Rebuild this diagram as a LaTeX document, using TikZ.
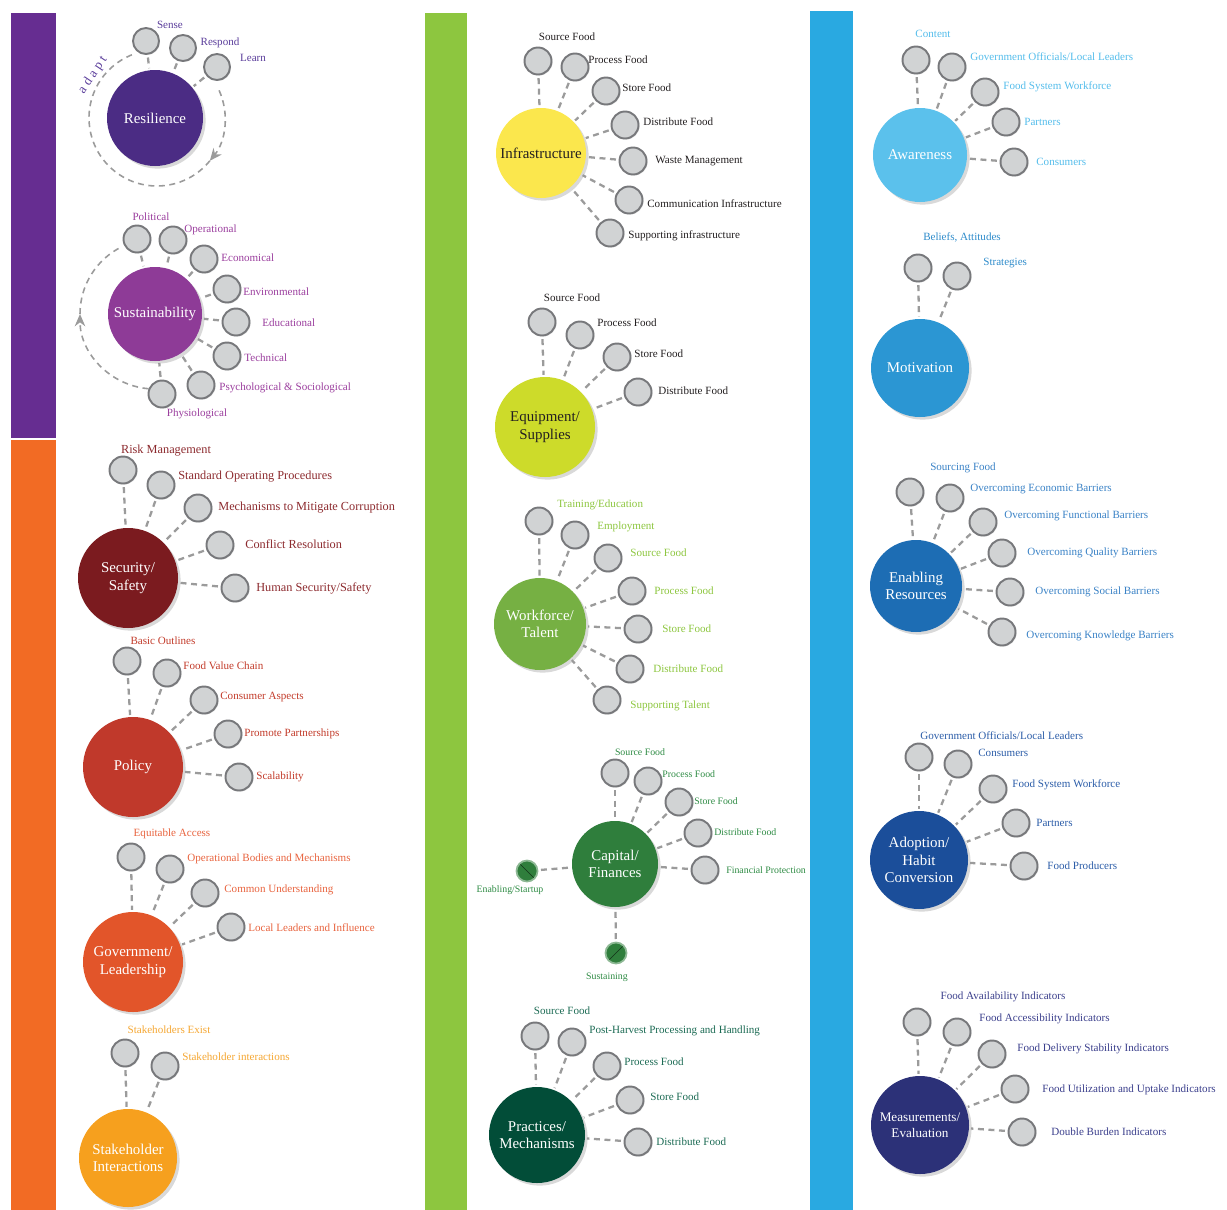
\documentclass[tikz,border=0pt]{standalone}
\usepackage{fontspec}
\setmainfont{Liberation Serif}
\usetikzlibrary{shadows, arrows.meta, calc, positioning}

\definecolor{barpurple}{HTML}{662D91}
\definecolor{barorange}{HTML}{F26B24}
\definecolor{bargreen}{HTML}{8DC63F}
\definecolor{barblue}{HTML}{29A9E1}
\definecolor{leafgray}{HTML}{D1D3D4}
\definecolor{leafedge}{HTML}{77787B}
\definecolor{linkgray}{HTML}{9B9B9B}
\definecolor{darktext}{HTML}{231F20}
\definecolor{resil}{HTML}{4B2C84}
\definecolor{resiltxt}{HTML}{5B3E9B}
\definecolor{sustain}{HTML}{8E3B97}
\definecolor{sustxt}{HTML}{9B3F9E}
\definecolor{secur}{HTML}{7B1B1F}
\definecolor{sectxt}{HTML}{8C2A2E}
\definecolor{policy}{HTML}{C0392B}
\definecolor{poltxt}{HTML}{C23B2A}
\definecolor{govern}{HTML}{E2552A}
\definecolor{govtxt}{HTML}{E8643F}
\definecolor{stake}{HTML}{F6A01E}
\definecolor{stktxt}{HTML}{F5A733}
\definecolor{infra}{HTML}{FBE74D}
\definecolor{equip}{HTML}{CDDB2A}
\definecolor{work}{HTML}{76B043}
\definecolor{wrktxt}{HTML}{8DC63F}
\definecolor{capital}{HTML}{2F7E3C}
\definecolor{captxt}{HTML}{2E8B44}
\definecolor{practice}{HTML}{024D38}
\definecolor{prctxt}{HTML}{1C6B54}
\definecolor{aware}{HTML}{5BC1EC}
\definecolor{awatxt}{HTML}{55BDEB}
\definecolor{motiv}{HTML}{2B96D3}
\definecolor{mottxt}{HTML}{2F8CCB}
\definecolor{enable}{HTML}{1D6DB4}
\definecolor{enatxt}{HTML}{3A82C6}
\definecolor{adopt}{HTML}{1B4E9A}
\definecolor{adotxt}{HTML}{2C5DA8}
\definecolor{measure}{HTML}{2C3178}
\definecolor{meatxt}{HTML}{3B3F8C}

\tikzset{
  hub/.style={circle, fill=#1, text=white, align=center, inner sep=0pt,
    minimum size=96*0.02cm, font=\fontsize{8.5}{10}\selectfont,
    drop shadow={shadow xshift=1.5pt, shadow yshift=-1.5pt, opacity=0.3}},
  leaf/.style={circle, fill=leafgray, draw=leafedge, line width=1.1pt, inner sep=0pt,
    minimum size=27*0.02cm,
    drop shadow={shadow xshift=0.6pt, shadow yshift=-0.6pt, opacity=0.25}},
  phase/.style={circle, fill=capital, draw=capital!55, line width=1pt, inner sep=0pt,
    minimum size=21*0.02cm},
  phasedown/.style={phase, path picture={\draw[capital!40!black, line width=0.3pt]
    (path picture bounding box.north west) -- (path picture bounding box.south east);}},
  phaseup/.style={phase, path picture={\draw[capital!40!black, line width=0.3pt]
    (path picture bounding box.south west) -- (path picture bounding box.north east);}},
  link/.style={draw=linkgray, line width=1.3pt, dash pattern=on 3.4pt off 2.6pt,
    shorten <=1.5pt, shorten >=1pt},
  loop/.style={draw=linkgray, line width=0.9pt, dash pattern=on 3.4pt off 2.6pt},
  tag/.style={text=#1, inner sep=0pt, font=\fontsize{6.3}{7.5}\selectfont},
  bigtag/.style={tag=#1, font=\fontsize{7}{8}\selectfont},
  smalltag/.style={tag=#1, font=\fontsize{5.6}{6.5}\selectfont},
}

\begin{document}
\begin{tikzpicture}[x=0.02cm, y=-0.02cm]
\useasboundingbox (0,0) rectangle (1227,1210);

% colour bars
\fill[barpurple] (11,13) rectangle (56,438);
\fill[barorange] (11,440) rectangle (56,1210);
\fill[bargreen] (425,13) rectangle (467,1210);
\fill[barblue] (810,11) rectangle (853,1210);

% ---------- first column ----------
% resilience
\coordinate (rescen) at (157,118);
\draw[loop, -{Stealth[length=7pt, width=6pt, fill=linkgray]}] ($(rescen)+(-24:68)$) arc[start angle=-24, end angle=39, radius=68];
\draw[loop] ($(rescen)+(39:68)$) arc[start angle=39, end angle=251, radius=68];
\node[hub=resil] (res) at (155,118) {Resilience};
\node[leaf, minimum size=26*0.02cm] (res1) at (146,41) {};
\node[leaf, minimum size=26*0.02cm] (res2) at (183,48) {};
\node[leaf, minimum size=26*0.02cm] (res3) at (217,67) {};
\node[tag=resiltxt] (res1t) at (170,25) {Sense};
\node[tag=resiltxt] (res2t) at (220,43) {Respond};
\node[tag=resiltxt] (res3t) at (253,58) {Learn};
\node[text=resiltxt, rotate=56, font=\fontsize{7.5}{8}\selectfont\addfontfeature{LetterSpace=25}, inner sep=0pt] (adapt) at (93,75) {adapt};

% sustainability
\coordinate (suscen) at (155,314);
\draw[loop, -{Stealth[length=7pt, width=6pt, fill=linkgray]}] ($(suscen)+(95:75)$) arc[start angle=95, end angle=180, radius=75];
\draw[loop] ($(suscen)+(180:75)$) arc[start angle=180, end angle=244, radius=75];
\node[hub=sustain, minimum size=94*0.02cm] (sus) at (155,314) {Sustainability};
\node[leaf] (sus1) at (137,239) {};
\node[leaf] (sus2) at (173,240) {};
\node[leaf] (sus3) at (204,259) {};
\node[leaf] (sus4) at (227,289) {};
\node[leaf] (sus5) at (236,322) {};
\node[leaf] (sus6) at (227,356) {};
\node[leaf] (sus7) at (201,385) {};
\node[leaf] (sus8) at (162,394) {};
\node[tag=sustxt] (sus1t) at (151,217) {Political};
\node[tag=sustxt, anchor=west] (sus2t) at (184,230) {Operational};
\node[tag=sustxt, anchor=west] (sus3t) at (221,258) {Economical};
\node[tag=sustxt, anchor=west] (sus4t) at (243,292) {Environmental};
\node[tag=sustxt, anchor=west] (sus5t) at (262,323) {Educational};
\node[tag=sustxt, anchor=west] (sus6t) at (244,358) {Technical};
\node[tag=sustxt, anchor=west] (sus7t) at (219,388) {Psychological \& Sociological};
\node[tag=sustxt] (sus8t) at (197,414) {Physiological};

% security
\node[hub=secur, minimum size=100*0.02cm] (sec) at (128,578) {Security/\\Safety};
\node[leaf] (sec1) at (123,470) {};
\node[leaf] (sec2) at (161,485) {};
\node[leaf] (sec3) at (198,508) {};
\node[leaf] (sec4) at (220,545) {};
\node[leaf] (sec5) at (235,588) {};
\node[bigtag=sectxt] (sec1t) at (166,451) {Risk Management};
\node[bigtag=sectxt, anchor=west] (sec2t) at (178,477) {Standard Operating Procedures};
\node[bigtag=sectxt, anchor=west] (sec3t) at (218,508) {Mechanisms to Mitigate Corruption};
\node[bigtag=sectxt, anchor=west] (sec4t) at (245,544) {Conflict Resolution};
\node[bigtag=sectxt, anchor=west] (sec5t) at (256,588) {Human Security/Safety};

% policy
\node[hub=policy, minimum size=100*0.02cm] (pol) at (133,767) {Policy};
\node[leaf] (pol1) at (127,661) {};
\node[leaf] (pol2) at (167,673) {};
\node[leaf] (pol3) at (204,700) {};
\node[leaf] (pol4) at (228,734) {};
\node[leaf] (pol5) at (239,777) {};
\node[tag=poltxt] (pol1t) at (163,641) {Basic Outlines};
\node[tag=poltxt, anchor=west] (pol2t) at (183,666) {Food Value Chain};
\node[tag=poltxt, anchor=west] (pol3t) at (220,697) {Consumer Aspects};
\node[tag=poltxt, anchor=west] (pol4t) at (244,734) {Promote Partnerships};
\node[tag=poltxt, anchor=west] (pol5t) at (256,777) {Scalability};

% government
\node[hub=govern, minimum size=100*0.02cm] (gov) at (133,962) {Government/\\Leadership};
\node[leaf] (gov1) at (131,857) {};
\node[leaf] (gov2) at (170,869) {};
\node[leaf] (gov3) at (205,893) {};
\node[leaf] (gov4) at (231,927) {};
\node[tag=govtxt] (gov1t) at (172,834) {Equitable Access};
\node[tag=govtxt, anchor=west] (gov2t) at (187,859) {Operational Bodies and Mechanisms};
\node[tag=govtxt, anchor=west] (gov3t) at (224,890) {Common Understanding};
\node[tag=govtxt, anchor=west] (gov4t) at (248,928) {Local Leaders and Influence};

% stakeholders
\node[hub=stake, minimum size=98*0.02cm] (stk) at (128,1158) {Stakeholder\\Interactions};
\node[leaf] (stk1) at (125,1053) {};
\node[leaf] (stk2) at (165,1066) {};
\node[tag=stktxt] (stk1t) at (169,1030) {Stakeholders Exist};
\node[tag=stktxt, anchor=west] (stk2t) at (182,1057) {Stakeholder interactions};

% ---------- second column ----------
% infrastructure
\node[hub=infra, text=darktext, minimum size=90*0.02cm] (inf) at (541,153) {Infrastructure};
\node[leaf] (inf1) at (538,61) {};
\node[leaf] (inf2) at (575,67) {};
\node[leaf] (inf3) at (606,91) {};
\node[leaf] (inf4) at (625,125) {};
\node[leaf] (inf5) at (633,161) {};
\node[leaf] (inf6) at (629,200) {};
\node[leaf] (inf7) at (610,233) {};
\node[tag=darktext] (inf1t) at (567,37) {Source Food};
\node[tag=darktext, anchor=west] (inf2t) at (588,60) {Process Food};
\node[tag=darktext, anchor=west] (inf3t) at (622,88) {Store Food};
\node[tag=darktext, anchor=west] (inf4t) at (643,122) {Distribute Food};
\node[tag=darktext, anchor=west] (inf5t) at (655,161) {Waste Management};
\node[tag=darktext, anchor=west] (inf6t) at (647,204) {Communication Infrastructure};
\node[tag=darktext, anchor=west] (inf7t) at (628,236) {Supporting infrastructure};

% equipment
\node[hub=equip, text=darktext, minimum size=100*0.02cm] (equ) at (545,427) {Equipment/\\Supplies};
\node[leaf] (equ1) at (542,322) {};
\node[leaf] (equ2) at (580,335) {};
\node[leaf] (equ3) at (617,357) {};
\node[leaf] (equ4) at (638,392) {};
\node[tag=darktext] (equ1t) at (572,298) {Source Food};
\node[tag=darktext, anchor=west] (equ2t) at (597,323) {Process Food};
\node[tag=darktext, anchor=west] (equ3t) at (634,354) {Store Food};
\node[tag=darktext, anchor=west] (equ4t) at (658,391) {Distribute Food};

% workforce
\node[hub=work, minimum size=92*0.02cm] (wrk) at (540,624) {Workforce/\\Talent};
\node[leaf] (wrk1) at (539,521) {};
\node[leaf] (wrk2) at (575,535) {};
\node[leaf] (wrk3) at (608,558) {};
\node[leaf] (wrk4) at (632,591) {};
\node[leaf] (wrk5) at (638,629) {};
\node[leaf] (wrk6) at (630,669) {};
\node[leaf] (wrk7) at (607,700) {};
\node[tag=wrktxt, anchor=west] (wrk1t) at (557,505) {Training/Education};
\node[tag=wrktxt, anchor=west] (wrk2t) at (597,527) {Employment};
\node[tag=wrktxt, anchor=west] (wrk3t) at (630,553) {Source Food};
\node[tag=wrktxt, anchor=west] (wrk4t) at (654,591) {Process Food};
\node[tag=wrktxt, anchor=west] (wrk5t) at (662,629) {Store Food};
\node[tag=wrktxt, anchor=west] (wrk6t) at (653,669) {Distribute Food};
\node[tag=wrktxt, anchor=west] (wrk7t) at (630,706) {Supporting Talent};

% capital
\node[hub=capital, minimum size=86*0.02cm] (cap) at (615,864) {Capital/\\Finances};
\node[leaf] (cap1) at (615,773) {};
\node[leaf] (cap2) at (648,781) {};
\node[leaf] (cap3) at (679,802) {};
\node[leaf] (cap4) at (698,833) {};
\node[leaf] (cap5) at (705,870) {};
\node[phasedown] (capS) at (527,871) {};
\node[phaseup] (capE) at (616,953) {};
\node[smalltag=captxt] (cap1t) at (640,752) {Source Food};
\node[smalltag=captxt, anchor=west] (cap2t) at (662,774) {Process Food};
\node[smalltag=captxt, anchor=west] (cap3t) at (694,801) {Store Food};
\node[smalltag=captxt, anchor=west] (cap4t) at (714,832) {Distribute Food};
\node[smalltag=captxt, anchor=west] (cap5t) at (726,870) {Financial Protection};
\node[smalltag=captxt] (capSt) at (510,890) {Enabling/Startup};
\node[smalltag=captxt] (capEt) at (607,977) {Sustaining};

% practices
\node[hub=practice, minimum size=96*0.02cm] (prc) at (537,1135) {Practices/\\Mechanisms};
\node[leaf] (prc1) at (535,1036) {};
\node[leaf] (prc2) at (572,1042) {};
\node[leaf] (prc3) at (607,1066) {};
\node[leaf] (prc4) at (630,1100) {};
\node[leaf] (prc5) at (638,1142) {};
\node[tag=prctxt] (prc1t) at (562,1011) {Source Food};
\node[tag=prctxt, anchor=west] (prc2t) at (589,1031) {Post-Harvest Processing and Handling};
\node[tag=prctxt, anchor=west] (prc3t) at (624,1062) {Process Food};
\node[tag=prctxt, anchor=west] (prc4t) at (650,1097) {Store Food};
\node[tag=prctxt, anchor=west] (prc5t) at (656,1142) {Distribute Food};

% ---------- third column ----------
% awareness
\node[hub=aware, minimum size=94*0.02cm] (awa) at (920,155) {Awareness};
\node[leaf] (awa1) at (916,60) {};
\node[leaf] (awa2) at (952,67) {};
\node[leaf] (awa3) at (985,92) {};
\node[leaf] (awa4) at (1006,122) {};
\node[leaf] (awa5) at (1014,162) {};
\node[tag=awatxt] (awa1t) at (933,34) {Content};
\node[tag=awatxt, anchor=west] (awa2t) at (970,57) {Government Officials/Local Leaders};
\node[tag=awatxt, anchor=west] (awa3t) at (1003,87) {Food System Workforce};
\node[tag=awatxt, anchor=west] (awa4t) at (1024,122) {Partners};
\node[tag=awatxt, anchor=west] (awa5t) at (1036,162) {Consumers};

% motivation
\node[hub=motiv, minimum size=98*0.02cm] (mot) at (920,368) {Motivation};
\node[leaf] (mot1) at (918,268) {};
\node[leaf] (mot2) at (957,276) {};
\node[tag=mottxt] (mot1t) at (962,237) {Beliefs, Attitudes};
\node[tag=mottxt, anchor=west] (mot2t) at (983,263) {Strategies};

% enabling resources
\node[hub=enable, minimum size=92*0.02cm] (ena) at (916,586) {Enabling\\Resources};
\node[leaf] (ena1) at (910,492) {};
\node[leaf] (ena2) at (950,498) {};
\node[leaf] (ena3) at (983,522) {};
\node[leaf] (ena4) at (1002,553) {};
\node[leaf] (ena5) at (1010,592) {};
\node[leaf] (ena6) at (1002,632) {};
\node[tag=enatxt] (ena1t) at (963,468) {Sourcing Food};
\node[tag=enatxt, anchor=west] (ena2t) at (970,489) {Overcoming Economic Barriers};
\node[tag=enatxt, anchor=west] (ena3t) at (1004,516) {Overcoming Functional Barriers};
\node[tag=enatxt, anchor=west] (ena4t) at (1027,553) {Overcoming Quality Barriers};
\node[tag=enatxt, anchor=west] (ena5t) at (1035,592) {Overcoming Social Barriers};
\node[tag=enatxt, anchor=west] (ena6t) at (1026,636) {Overcoming Knowledge Barriers};

% adoption
\node[hub=adopt, minimum size=98*0.02cm] (ado) at (919,860) {Adoption/\\Habit\\Conversion};
\node[leaf] (ado1) at (919,757) {};
\node[leaf] (ado2) at (958,764) {};
\node[leaf] (ado3) at (993,789) {};
\node[leaf] (ado4) at (1016,823) {};
\node[leaf] (ado5) at (1024,866) {};
\node[tag=adotxt, anchor=west] (ado1t) at (920,736) {Government Officials/Local Leaders};
\node[tag=adotxt, anchor=west] (ado2t) at (978,753) {Consumers};
\node[tag=adotxt, anchor=west] (ado3t) at (1012,785) {Food System Workforce};
\node[tag=adotxt, anchor=west] (ado4t) at (1036,823) {Partners};
\node[tag=adotxt, anchor=west] (ado5t) at (1047,866) {Food Producers};

% measurements
\node[hub=measure, minimum size=98*0.02cm, font=\fontsize{7.5}{9}\selectfont] (mea) at (920,1125) {Measurements/\\Evaluation};
\node[leaf] (mea1) at (917,1022) {};
\node[leaf] (mea2) at (957,1032) {};
\node[leaf] (mea3) at (992,1054) {};
\node[leaf] (mea4) at (1015,1089) {};
\node[leaf] (mea5) at (1022,1132) {};
\node[tag=meatxt] (mea1t) at (1003,997) {Food Availability Indicators};
\node[tag=meatxt, anchor=west] (mea2t) at (979,1019) {Food Accessibility Indicators};
\node[tag=meatxt, anchor=west] (mea3t) at (1017,1049) {Food Delivery Stability Indicators};
\node[tag=meatxt, anchor=west] (mea4t) at (1042,1090) {Food Utilization and Uptake Indicators};
\node[tag=meatxt, anchor=west] (mea5t) at (1051,1132) {Double Burden Indicators};

%connections
\draw[link] (res1) -- (res);
\draw[link] (res2) -- (res);
\draw[link] (res3) -- (res);
\draw[link] (sus1) -- (sus);
\draw[link] (sus2) -- (sus);
\draw[link] (sus3) -- (sus);
\draw[link] (sus4) -- (sus);
\draw[link] (sus5) -- (sus);
\draw[link] (sus6) -- (sus);
\draw[link] (sus7) -- (sus);
\draw[link] (sus8) -- (sus);
\draw[link] (sec1) -- (sec);
\draw[link] (sec2) -- (sec);
\draw[link] (sec3) -- (sec);
\draw[link] (sec4) -- (sec);
\draw[link] (sec5) -- (sec);
\draw[link] (pol1) -- (pol);
\draw[link] (pol2) -- (pol);
\draw[link] (pol3) -- (pol);
\draw[link] (pol4) -- (pol);
\draw[link] (pol5) -- (pol);
\draw[link] (gov1) -- (gov);
\draw[link] (gov2) -- (gov);
\draw[link] (gov3) -- (gov);
\draw[link] (gov4) -- (gov);
\draw[link] (stk1) -- (stk);
\draw[link] (stk2) -- (stk);
\draw[link] (inf1) -- (inf);
\draw[link] (inf2) -- (inf);
\draw[link] (inf3) -- (inf);
\draw[link] (inf4) -- (inf);
\draw[link] (inf5) -- (inf);
\draw[link] (inf6) -- (inf);
\draw[link] (inf7) -- (inf);
\draw[link] (equ1) -- (equ);
\draw[link] (equ2) -- (equ);
\draw[link] (equ3) -- (equ);
\draw[link] (equ4) -- (equ);
\draw[link] (wrk1) -- (wrk);
\draw[link] (wrk2) -- (wrk);
\draw[link] (wrk3) -- (wrk);
\draw[link] (wrk4) -- (wrk);
\draw[link] (wrk5) -- (wrk);
\draw[link] (wrk6) -- (wrk);
\draw[link] (wrk7) -- (wrk);
\draw[link] (cap1) -- (cap);
\draw[link] (cap2) -- (cap);
\draw[link] (cap3) -- (cap);
\draw[link] (cap4) -- (cap);
\draw[link] (cap5) -- (cap);
\draw[link] (capS) -- (cap);
\draw[link] (capE) -- (cap);
\draw[link] (prc1) -- (prc);
\draw[link] (prc2) -- (prc);
\draw[link] (prc3) -- (prc);
\draw[link] (prc4) -- (prc);
\draw[link] (prc5) -- (prc);
\draw[link] (awa1) -- (awa);
\draw[link] (awa2) -- (awa);
\draw[link] (awa3) -- (awa);
\draw[link] (awa4) -- (awa);
\draw[link] (awa5) -- (awa);
\draw[link] (mot1) -- (mot);
\draw[link] (mot2) -- (mot);
\draw[link] (ena1) -- (ena);
\draw[link] (ena2) -- (ena);
\draw[link] (ena3) -- (ena);
\draw[link] (ena4) -- (ena);
\draw[link] (ena5) -- (ena);
\draw[link] (ena6) -- (ena);
\draw[link] (ado1) -- (ado);
\draw[link] (ado2) -- (ado);
\draw[link] (ado3) -- (ado);
\draw[link] (ado4) -- (ado);
\draw[link] (ado5) -- (ado);
\draw[link] (mea1) -- (mea);
\draw[link] (mea2) -- (mea);
\draw[link] (mea3) -- (mea);
\draw[link] (mea4) -- (mea);
\draw[link] (mea5) -- (mea);
\end{tikzpicture}
\end{document}
